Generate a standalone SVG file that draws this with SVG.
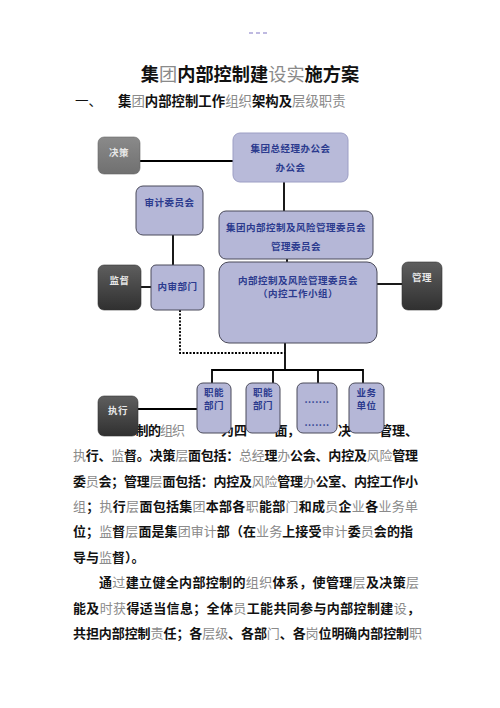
<svg xmlns="http://www.w3.org/2000/svg" width="500" height="708" viewBox="0 0 500 708">
<defs>
<linearGradient id="gMid" x1="0" y1="0" x2="0" y2="1"><stop offset="0" stop-color="#8a8a8a"/><stop offset="1" stop-color="#707070"/></linearGradient>
<linearGradient id="gDark" x1="0" y1="0" x2="0" y2="1"><stop offset="0" stop-color="#5e5e5e"/><stop offset="1" stop-color="#303030"/></linearGradient>
<style>
.lav{fill:#b5b7d7;stroke:#4a4a5a;stroke-width:1}
.lavl{fill:#b8bad9;stroke:#9c9ec4;stroke-width:1}
.dk{stroke:#333;stroke-width:0.6}
.bt{font-family:"Noto Sans CJK SC","Noto Sans CJK JP",sans-serif;font-size:9.5px;fill:#2b3a8e;font-weight:bold;text-anchor:middle;letter-spacing:0.5px}
.wt{font-family:"Noto Sans CJK SC",sans-serif;font-size:9.5px;fill:#e8e8e8;font-weight:bold;text-anchor:middle;letter-spacing:0.5px}
.ln{stroke:#000;stroke-width:1.8;fill:none}
.dot{stroke:#000;stroke-width:1.8;fill:none;stroke-dasharray:2 1.5}
.body{font-family:"Noto Sans CJK SC","Noto Sans CJK JP",sans-serif;font-size:13px;fill:#111;font-weight:bold}
.g{fill:#8a8a8a;font-weight:normal}
</style>
</defs>
<rect width="500" height="708" fill="#fff"/>
<line x1="249" y1="33" x2="270" y2="33" stroke="#aaa4d8" stroke-width="1.5" stroke-dasharray="4 3"/>
<text x="250" y="81" text-anchor="middle" font-family="'Noto Sans CJK SC',sans-serif" font-size="18.2" font-weight="bold" fill="#111">集<tspan class="g">团</tspan>内部控制建<tspan class="g">设实</tspan>施方案</text>
<text x="75" y="106" font-family="'Noto Sans CJK SC',sans-serif" font-size="13.5" fill="#111">一、</text>
<text x="118" y="106" font-family="'Noto Sans CJK SC',sans-serif" font-size="13.4" font-weight="bold" fill="#111">集<tspan class="g">团</tspan>内部控制工作<tspan class="g">组织</tspan>架构及<tspan class="g">层级职责</tspan></text>

<!-- body text (drawn first; diagram boxes overlap it) -->
<g id="bodytext" class="body">
<text y="435"><tspan x="135.5">制</tspan><tspan x="148">的</tspan><tspan x="160" class="g">组</tspan><tspan x="172" class="g">织</tspan><tspan x="221">为</tspan><tspan x="234">四</tspan><tspan x="274.5">面</tspan><tspan x="287">，</tspan><tspan x="338">决</tspan><tspan x="379">管</tspan><tspan x="392">理</tspan><tspan x="405">、</tspan></text>
<text x="73" y="460" textLength="345" lengthAdjust="spacing"><tspan class="g">执</tspan>行、<tspan class="g">监</tspan>督。决策<tspan class="g">层</tspan>面包括：<tspan class="g">总经</tspan>理<tspan class="g">办</tspan>公会、内控及<tspan class="g">风险</tspan>管理</text>
<text x="73" y="485.5" textLength="345" lengthAdjust="spacing">委<tspan class="g">员</tspan>会；管理<tspan class="g">层</tspan>面包括：内控及<tspan class="g">风险</tspan>管理<tspan class="g">办</tspan>公室、内控工作小</text>
<text x="73" y="511" textLength="345" lengthAdjust="spacing"><tspan class="g">组</tspan>；<tspan class="g">执</tspan>行<tspan class="g">层</tspan>面包括集<tspan class="g">团</tspan>本部各<tspan class="g">职</tspan>能部<tspan class="g">门</tspan>和成<tspan class="g">员</tspan>企<tspan class="g">业</tspan>各<tspan class="g">业务单</tspan></text>
<text x="73" y="536" textLength="340" lengthAdjust="spacing">位；<tspan class="g">监</tspan>督<tspan class="g">层</tspan>面是集<tspan class="g">团审计</tspan>部（在<tspan class="g">业务</tspan>上接受<tspan class="g">审计</tspan>委<tspan class="g">员</tspan>会的指</text>
<text x="73" y="561.5">导与<tspan class="g">监</tspan>督）。</text>
<text x="99" y="587" textLength="320" lengthAdjust="spacing">通<tspan class="g">过</tspan>建立健全内部控制的<tspan class="g">组织</tspan>体系，使管理<tspan class="g">层</tspan>及决策<tspan class="g">层</tspan></text>
<text x="73" y="612.5" textLength="347" lengthAdjust="spacing">能及<tspan class="g">时获</tspan>得适当信息；全体<tspan class="g">员</tspan>工能共同参与内部控制建<tspan class="g">设</tspan>，</text>
<text x="73" y="638" textLength="349" lengthAdjust="spacing">共担内部控制<tspan class="g">责</tspan>任；各<tspan class="g">层级</tspan>、各部<tspan class="g">门</tspan>、各<tspan class="g">岗</tspan>位明确内部控制<tspan class="g">职</tspan></text>
</g>

<g id="connectors">
<path class="ln" d="M140 161H234"/>
<path class="ln" d="M284 182V211"/>
<path class="ln" d="M287 259V263"/>
<path class="ln" d="M173 235V265"/>
<path class="ln" d="M141 287H151"/>
<path class="ln" d="M377 284H402"/>
<path class="dot" d="M180 310V353H285"/>
<path class="ln" d="M285 343V370"/>
<path class="ln" d="M211.5 370H363.5M212 369V384M273 370V384M318 370V384M363 369V384"/>
<path class="ln" d="M137 409H197"/>
</g>

<g id="n-juece"><rect x="98" y="137" width="42" height="37" rx="6" fill="url(#gMid)" stroke="#666" stroke-width="0.6"/><text class="wt" x="119" y="156">决策</text></g>
<g id="n-zongjingli"><rect x="233" y="133" width="115" height="49" rx="7" class="lavl"/><text class="bt" x="290.5" y="152">集团总经理办公会</text><text class="bt" x="290.5" y="171">办公会</text></g>
<g id="n-shenji"><rect x="136" y="186" width="67" height="49" rx="7" class="lav"/><text class="bt" x="169.5" y="206">审计委员会</text></g>
<g id="n-jituan"><rect x="219" y="211" width="154" height="48" rx="7" class="lav"/><text class="bt" x="296" y="231">集团内部控制及风险管理委员会</text><text class="bt" x="296" y="250">管理委员会</text></g>
<g id="n-jiandu"><rect x="98" y="265" width="43" height="45" rx="6" fill="url(#gDark)" class="dk"/><text class="wt" x="119.5" y="284">监督</text></g>
<g id="n-neishen"><rect x="151" y="265" width="53" height="45" rx="5" class="lav"/><text class="bt" x="177.5" y="290">内审部门</text></g>
<g id="n-neikong"><rect x="219" y="262" width="158" height="81" rx="10" class="lav"/><text class="bt" x="298" y="284">内部控制及风险管理委员会</text><text class="bt" x="298" y="297">（内控工作小组）</text></g>
<g id="n-guanli"><rect x="402" y="262" width="40" height="48" rx="6" fill="url(#gDark)" class="dk"/><text class="wt" x="422" y="281">管理</text></g>
<g id="n-zhixing"><rect x="98" y="396" width="40" height="40" rx="6" fill="url(#gDark)" class="dk"/><text class="wt" x="118" y="414">执行</text></g>
<g id="n-zhineng1"><rect x="197" y="383" width="34" height="50" rx="6" class="lav"/><text class="bt" x="214" y="395.5">职能</text><text class="bt" x="214" y="408.5">部门</text></g>
<g id="n-zhineng2"><rect x="246" y="383" width="34" height="50" rx="6" class="lav"/><text class="bt" x="263" y="395.5">职能</text><text class="bt" x="263" y="408.5">部门</text></g>
<g id="n-dots"><rect x="297" y="383" width="40" height="50" rx="6" class="lav"/><text class="bt" x="317" y="403" font-size="7" letter-spacing="0">.......</text><text class="bt" x="317" y="426" font-size="7" letter-spacing="0">.......</text></g>
<g id="n-yewu"><rect x="349" y="383" width="35" height="50" rx="6" class="lav"/><text class="bt" x="366.5" y="395.5">业务</text><text class="bt" x="366.5" y="409">单位</text></g>
</svg>
